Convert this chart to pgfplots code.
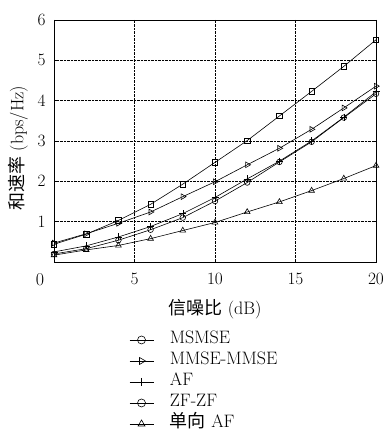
\documentclass[border=0pt]{standalone}
\usepackage{fontspec}
\newfontfamily\cjk{Noto Sans CJK SC}
\usepackage{pgfplots}
\pgfplotsset{compat=1.18}

\pgfplotstableread{
x msmse mmse af zf one
0  0.44 0.47 0.25 0.20 0.17
2  0.69 0.70 0.40 0.33 0.30
4  1.03 0.96 0.62 0.54 0.41
6  1.43 1.24 0.88 0.80 0.58
8  1.93 1.62 1.20 1.10 0.78
10 2.47 1.99 1.60 1.51 0.98
12 3.01 2.41 2.06 1.97 1.24
14 3.62 2.82 2.50 2.48 1.49
16 4.23 3.29 3.00 2.98 1.77
18 4.85 3.82 3.59 3.58 2.07
20 5.51 4.36 4.22 4.17 2.39
}\datatab

\newcommand{\bigf}{\fontsize{18}{20}\selectfont}

\begin{document}
\begin{tikzpicture}
\begin{axis}[
  scale only axis, width=322pt, height=242pt,
  xmin=0, xmax=20, ymin=0, ymax=6,
  xtick={5,10,15,20}, ytick={1,2,3,4,5,6},
  extra x ticks={0}, extra x tick labels={0},
  extra x tick style={grid=none, xticklabel style={xshift=-14pt}},
  grid=major,
  grid style={densely dotted, black, line width=0.5pt},
  axis line style={line width=0.8pt},
  tick style={black, line width=0.5pt}, major tick length=3pt,
  tick label style={font=\bigf},
  label style={font=\bigf},
  xticklabel style={yshift=-8pt},
  yticklabel style={xshift=-5pt},
  xlabel={{\cjk 信噪比} (dB)},
  ylabel={{\cjk 和速率} (bps/Hz)},
  xlabel style={at={(axis description cs:0.5,-0.195)}, anchor=center},
  ylabel style={at={(axis description cs:-0.112,0.47)}, anchor=center, rotate=0},
  every axis plot/.append style={black, line width=0.6pt, mark options={solid, line width=0.6pt, fill=none}},
  legend style={at={(axis description cs:0.233,-0.278)}, anchor=north west, font=\bigf,
    draw=none, fill=none, inner sep=0pt, column sep=16pt, row sep=0pt,
    nodes={inner sep=0pt, anchor=west, text height=14pt, text depth=7pt}},
  legend cell align=left,
  legend image code/.code={\draw[mark repeat=2,mark phase=2,#1] plot coordinates {(0pt,0pt) (12pt,0pt) (24pt,0pt)};},
]
\addplot[mark=square, mark size=2.7pt, forget plot] table[x=x,y=msmse]{\datatab};
\addplot[mark=triangle, mark size=3.3pt, mark options={rotate=-90}, forget plot] table[x=x,y=mmse]{\datatab};
\addplot[mark=+, mark size=3.5pt, forget plot] table[x=x,y=af]{\datatab};
\addplot[mark=o, mark size=2.8pt, forget plot] table[x=x,y=zf]{\datatab};
\addplot[mark=triangle, mark size=3.3pt, forget plot] table[x=x,y=one]{\datatab};

\addlegendimage{black, line width=0.6pt, mark=o, mark size=4pt}
\addlegendentry{MSMSE}
\addlegendimage{black, line width=0.6pt, mark=triangle, mark size=4pt, mark options={rotate=-90}}
\addlegendentry{MMSE-MMSE}
\addlegendimage{black, line width=0.6pt, mark=+, mark size=4pt}
\addlegendentry{AF}
\addlegendimage{black, line width=0.6pt, mark=o, mark size=4pt}
\addlegendentry{ZF-ZF}
\addlegendimage{black, line width=0.6pt, mark=triangle, mark size=4pt}
\addlegendentry{{\cjk 单向} AF}
\end{axis}
\pgfresetboundingbox
\path[use as bounding box] ([shift={(-54pt,-169pt)}]current axis.south west) rectangle ([shift={(9pt,20pt)}]current axis.north east);
\end{tikzpicture}
\end{document}
